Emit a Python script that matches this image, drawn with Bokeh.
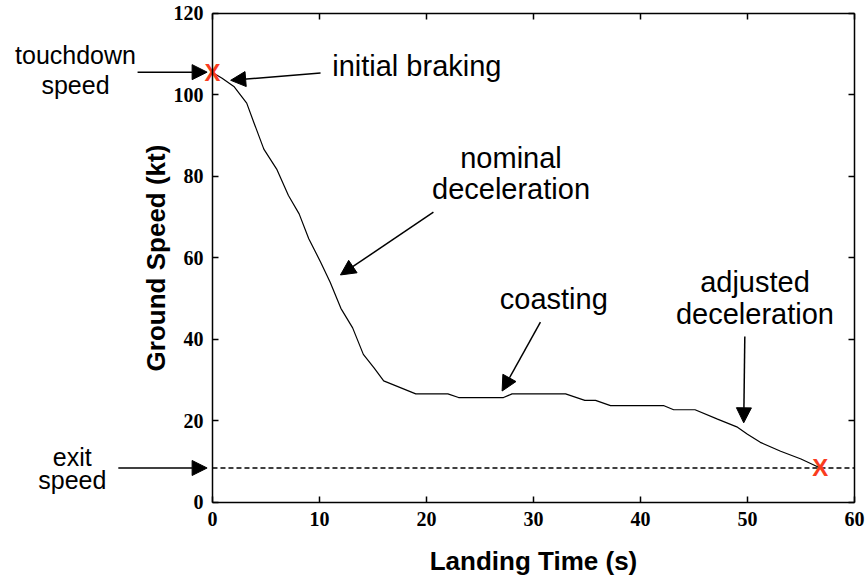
from bokeh.plotting import figure
from bokeh.models import LinearAxis, FixedTicker, Label, Arrow, NormalHead
from bokeh.core.properties import value
from bokeh.embed import file_html
from bokeh.resources import INLINE

# Data
time_s = [0, 0.9, 2.0, 3.2, 3.9, 4.8, 6.0, 7.1, 8.1, 9.0, 10.1, 11.0, 12.0, 13.1,
          14.1, 15.1, 16.0, 19.0, 22.0, 23.0, 27.2, 28.0, 33.0, 34.8, 35.8, 37.2,
          42.2, 43.1, 45.1, 47.2, 49.0, 50.0, 51.2, 53.1, 55.0, 56.8]
speed_kt = [105.5, 104.1, 102.1, 98.0, 93.0, 86.7, 81.8, 75.3, 70.8, 64.7, 59.0, 54.0,
            47.6, 42.8, 36.3, 33.0, 29.8, 26.6, 26.6, 25.7, 25.7, 26.6, 26.6, 25.0,
            25.0, 23.7, 23.7, 22.7, 22.7, 20.4, 18.5, 16.7, 14.7, 12.5, 10.6, 8.4]
exit_speed = 8.4
x_ticks = [0, 10, 20, 30, 40, 50, 60]
y_ticks = [0, 20, 40, 60, 80, 100, 120]

# Annotations: (text, x, y)
side_labels = [("touchdown", -12.8, 109.8), ("speed", -12.8, 102.5),
               ("exit", -13.1, 11.2), ("speed", -13.1, 5.5)]
notes = [("initial braking", 19.1, 107.1), ("nominal", 27.9, 84.6),
         ("deceleration", 27.9, 77.0), ("coasting", 31.9, 50.0),
         ("adjusted", 50.7, 54.1), ("deceleration", 50.7, 46.1)]
# arrows: (x_start, y_start, x_end, y_end)
arrows = [(-7.0, 105.6, -0.5, 105.6), (10.1, 105.4, 1.7, 103.6),
          (20.65, 71.2, 11.96, 55.8), (30.65, 44.2, 27.07, 27.3),
          (49.75, 40.7, 49.65, 19.5), (-8.8, exit_speed, -0.5, exit_speed)]

p = figure(width=865, height=579, x_range=(-19.81, 61.03), y_range=(-18.98, 123.19),
           output_backend="svg", toolbar_location=None, title=None,
           min_border=0, x_axis_location=None, y_axis_location=None)
p.grid.visible = False
p.outline_line_color = None
p.background_fill_color = "white"
p.border_fill_color = "white"


def make_axis(ticks, loc, bounds, labels=True, label=""):
    ax = LinearAxis(ticker=FixedTicker(ticks=ticks), fixed_location=loc, bounds=bounds,
                    major_tick_in=6, major_tick_out=0, minor_tick_line_color=None,
                    axis_line_width=1.5, major_tick_line_width=1.5,
                    axis_line_color="black", major_tick_line_color="black")
    if labels:
        ax.major_label_text_font = "Liberation Serif"
        ax.major_label_text_font_style = "bold"
        ax.major_label_text_font_size = "20px"
        ax.major_label_text_color = "black"
        ax.axis_label = label
        ax.axis_label_text_font = "Liberation Sans"
        ax.axis_label_text_font_style = "bold"
        ax.axis_label_text_font_size = "26px"
        ax.axis_label_text_color = "black"
    else:
        ax.major_label_text_color = None
    return ax


xax = make_axis(x_ticks, 0, (0, 60), True, "Landing Time (s)")
xax.major_label_standoff = 10
xax.axis_label_standoff = 16
yax = make_axis(y_ticks, 0, (0, 120), True, "Ground Speed (kt)")
yax.major_label_standoff = 9
yax.axis_label_standoff = 0
top = make_axis(x_ticks, 120, (0, 60), False)
right = make_axis(y_ticks, 60, (0, 120), False)
p.add_layout(xax, "below")
p.add_layout(yax, "left")
p.add_layout(top, "above")
p.add_layout(right, "right")

p.line(x=[0, 60], y=[exit_speed, exit_speed], line_color="black", line_width=1.5,
       line_dash="5 3")
p.line(x=time_s, y=speed_kt, line_color="black", line_width=1.2)

p.text(x=[time_s[0], time_s[-1]], y=[speed_kt[0], speed_kt[-1]], text=["X", "X"],
       text_font=value("Liberation Sans"), text_font_size="24px",
       text_font_style="bold", text_color="#fa3c1e", text_align="center",
       text_baseline="middle")

for txt, x, y in side_labels:
    p.add_layout(Label(x=x, y=y, text=txt, text_font="Liberation Sans",
                       text_font_size="25px", text_align="center",
                       text_baseline="middle", text_color="black"))
for txt, x, y in notes:
    p.add_layout(Label(x=x, y=y, text=txt, text_font="Liberation Sans",
                       text_font_size="29px", text_align="center",
                       text_baseline="middle", text_color="black"))
for xs, ys, xe, ye in arrows:
    p.add_layout(Arrow(x_start=xs, y_start=ys, x_end=xe, y_end=ye, line_width=1.5,
                       line_color="black",
                       end=NormalHead(size=15, fill_color="black", line_color="black")))

open("out.html", "w").write(file_html(p, INLINE))
